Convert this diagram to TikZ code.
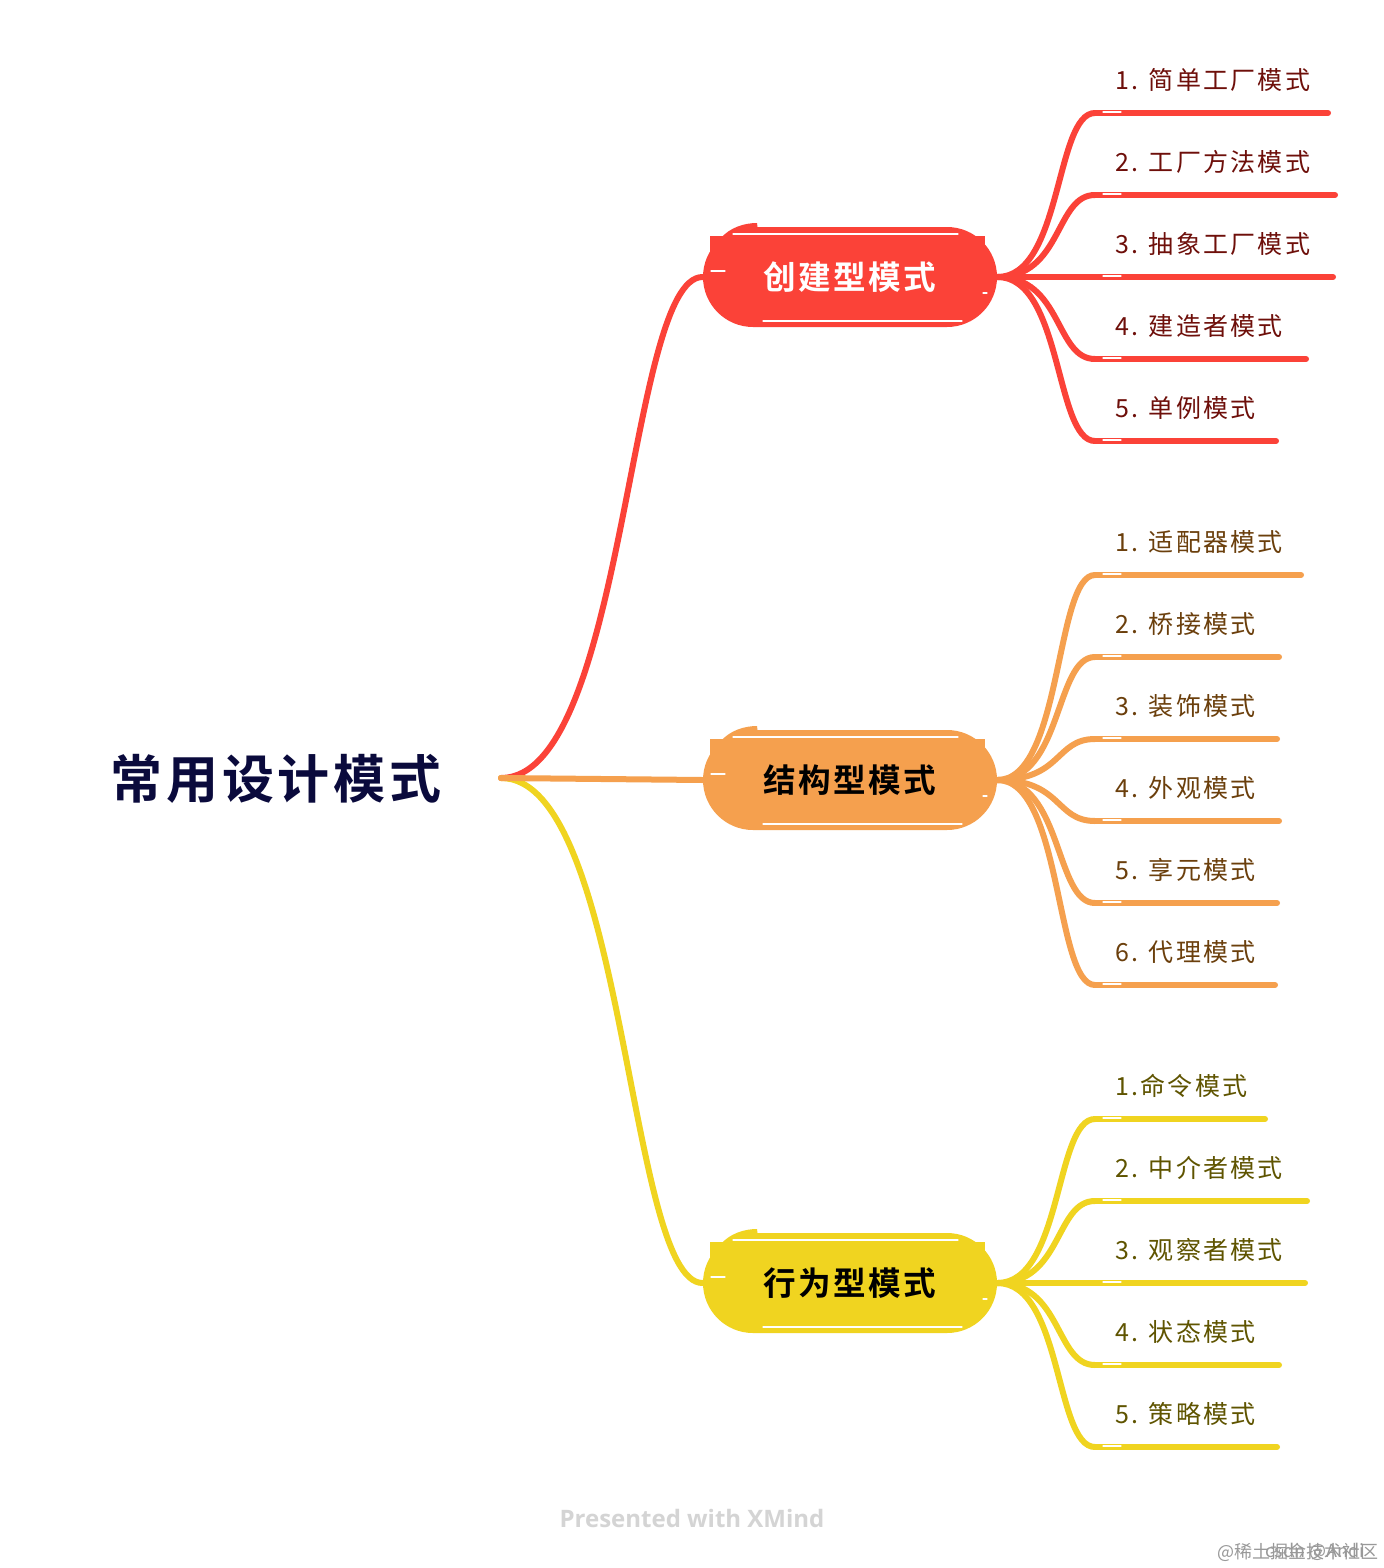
\documentclass[tikz,border=0pt]{standalone}
\usepackage{fontspec}
\setmainfont[LetterSpace=9]{Noto Sans CJK SC}
\newfontfamily\topicfont[LetterSpace=7]{Noto Sans CJK SC Bold}
\newfontfamily\wmfont{Noto Sans CJK SC}
\newfontfamily\xmfont{Open Sans}
\usetikzlibrary{shapes.misc}
\definecolor{creared}{HTML}{FB4238}
\definecolor{struorange}{HTML}{F5A04E}
\definecolor{behayellow}{HTML}{F0D420}
\definecolor{crealabel}{HTML}{6E0F0A}
\definecolor{strulabel}{HTML}{6B3F0C}
\definecolor{behalabel}{HTML}{5F5400}
\definecolor{rootink}{HTML}{0A0A3C}
\tikzset{
  rootlabel/.style={font=\topicfont\fontsize{26}{31}\selectfont,text=rootink},
  topicbox/.style={rounded rectangle,minimum width=147pt,minimum height=50pt,inner sep=0pt,font=\topicfont\fontsize{16.3}{20}\selectfont},
  leaflabel/.style={anchor=west,inner sep=0pt,font=\fontsize{12.5}{15}\selectfont},
  branchline/.style={line width=3pt,line cap=round},
  leafline/.style={line width=3pt,line cap=round,shorten >=1pt},
  sketchline/.style={white,line width=0.6pt,line cap=round}
}
\begin{document}
\begin{tikzpicture}[x=0.5pt,y=-0.5pt]
\useasboundingbox[fill=white] (0,0) rectangle (1384,1568);
\node[rootlabel] (root) at (276,779) {常用设计模式};
\coordinate (rootout) at (501,778);
\node[topicbox,fill=creared,text=white] (crea) at (850,277) {创建型模式};
\node[topicbox,fill=struorange,text=black] (stru) at (850,780) {结构型模式};
\node[topicbox,fill=behayellow,text=black] (beha) at (850,1283) {行为型模式};
\draw[branchline,creared] (rootout) .. controls +(125,0) and +(-75,0) .. (crea.west);
\draw[branchline,behayellow] (rootout) .. controls +(125,0) and +(-75,0) .. (beha.west);
\draw[branchline,struorange] (rootout) -- (stru.west);
\foreach \n/\y/\e/\t in {c1/113/1330/{1. 简单工厂模式},c2/195/1337/{2. 工厂方法模式},c3/277/1335/{3. 抽象工厂模式},c4/359/1308/{4. 建造者模式},c5/441/1278/{5. 单例模式}} {
  \node[leaflabel,text=crealabel] (\n) at (1115,\y-33) {\t};
  \coordinate (\n s) at (1095,\y);
  \coordinate (\n e) at (\e,\y);
  \draw[branchline,creared] (crea.east) .. controls +(65,0) and +(-40,0) .. (\n s);
  \draw[leafline,creared] (\n s) -- (\n e);
  \draw[sketchline] ([shift={(8,-1)}]\n s) -- ([shift={(26,-1)}]\n s);
}
\foreach \n/\y/\e/\t in {s1/575/1303/{1. 适配器模式},s2/657/1281/{2. 桥接模式},s3/739/1279/{3. 装饰模式},s4/821/1281/{4. 外观模式},s5/903/1279/{5. 享元模式},s6/985/1277/{6. 代理模式}} {
  \node[leaflabel,text=strulabel] (\n) at (1115,\y-33) {\t};
  \coordinate (\n s) at (1095,\y);
  \coordinate (\n e) at (\e,\y);
  \draw[branchline,struorange] (stru.east) .. controls +(65,0) and +(-40,0) .. (\n s);
  \draw[leafline,struorange] (\n s) -- (\n e);
  \draw[sketchline] ([shift={(8,-1)}]\n s) -- ([shift={(26,-1)}]\n s);
}
\foreach \n/\y/\e/\t in {b1/1119/1267/{1.命令模式},b2/1201/1309/{2. 中介者模式},b3/1283/1307/{3. 观察者模式},b4/1365/1281/{4. 状态模式},b5/1447/1279/{5. 策略模式}} {
  \node[leaflabel,text=behalabel] (\n) at (1115,\y-33) {\t};
  \coordinate (\n s) at (1095,\y);
  \coordinate (\n e) at (\e,\y);
  \draw[branchline,behayellow] (beha.east) .. controls +(65,0) and +(-40,0) .. (\n s);
  \draw[leafline,behayellow] (\n s) -- (\n e);
  \draw[sketchline] ([shift={(8,-1)}]\n s) -- ([shift={(26,-1)}]\n s);
}
\foreach \n/\c in {crea/creared,stru/struorange,beha/behayellow} {
  \begin{scope}[shift={(\n.center)}]
    \fill[\c] (-140,-41) rectangle (-120,-25);
    \fill[\c] (120,-41) rectangle (135,-25);
    \fill[\c] (-130,-38) .. controls (-120,-50) and (-105,-54) .. (-93,-54) -- (-92,-46) -- (-110,-38) -- cycle;
    \draw[sketchline] (-117,-43) -- (108,-43);
    \draw[sketchline] (-87,44) -- (112,44);
    \draw[sketchline] (-139,-6) -- (-125,-6);
    \draw[sketchline] (133,16) -- (137,16);
  \end{scope}
}
\node[font=\xmfont\bfseries\fontsize{12}{14}\selectfont,text=black!17] (xmind) at (692,1518) {Presented with XMind};
\node[font=\wmfont\fontsize{9}{11}\selectfont,text=black!40] (wma) at (1298,1552) {@稀土掘金技术社区};
\node[font=\wmfont\fontsize{9}{11}\selectfont,text=black!40] (wmb) at (1315,1552) {csdn @Andi};
\end{tikzpicture}
\end{document}
